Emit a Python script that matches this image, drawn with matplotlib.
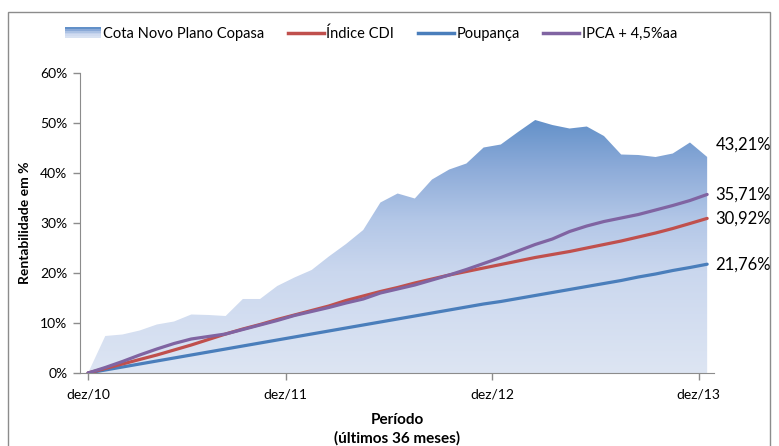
"""Rentabilidade acumulada: Cota Novo Plano Copasa vs CDI, Poupança e IPCA."""

import numpy as np
import matplotlib
matplotlib.use("Agg")
import matplotlib.pyplot as plt
from matplotlib.colors import LinearSegmentedColormap
from matplotlib.legend_handler import HandlerBase
from matplotlib.patches import Rectangle
from matplotlib.lines import Line2D

plt.rcParams["font.family"] = ["Lato", "DejaVu Sans"]

# months since dez/10 (0..36)
months = np.arange(37)

cota = [0, 7.4, 7.7, 8.5, 9.7, 10.3, 11.7, 11.6, 11.4, 14.8, 14.8, 17.4,
        19.1, 20.6, 23.3, 25.8, 28.6, 34.1, 35.9, 34.9, 38.7, 40.7, 41.9,
        45.1, 45.7, 48.2, 50.6, 49.6, 48.9, 49.3, 47.4, 43.7, 43.6, 43.2,
        43.9, 46.1, 43.21]
cdi = [0, 0.9, 1.8, 2.7, 3.6, 4.6, 5.6, 6.7, 7.8, 8.8, 9.7, 10.7,
       11.6, 12.5, 13.4, 14.5, 15.4, 16.3, 17.1, 18.0, 18.8, 19.6, 20.3,
       21.0, 21.7, 22.4, 23.1, 23.7, 24.3, 25.0, 25.7, 26.4, 27.2, 28.0,
       28.9, 29.9, 30.92]
poupanca = [0, 0.6, 1.2, 1.8, 2.4, 3.0, 3.6, 4.2, 4.8, 5.4, 6.0, 6.6,
            7.2, 7.8, 8.4, 9.0, 9.6, 10.2, 10.8, 11.4, 12.0, 12.6, 13.2,
            13.8, 14.3, 14.9, 15.5, 16.1, 16.7, 17.3, 17.9, 18.5, 19.2,
            19.8, 20.5, 21.1, 21.76]
ipca = [0, 1.1, 2.3, 3.6, 4.8, 5.9, 6.8, 7.3, 7.8, 8.7, 9.6, 10.5,
        11.5, 12.3, 13.1, 14.0, 14.8, 16.0, 16.8, 17.6, 18.6, 19.6, 20.7,
        21.9, 23.1, 24.4, 25.7, 26.8, 28.3, 29.4, 30.3, 31.0, 31.7, 32.6,
        33.5, 34.5, 35.71]

tick_pos = [0, 11.5, 23.5, 35.5]
tick_labels = ["dez/10", "dez/11", "dez/12", "dez/13"]
end_labels = ["43,21%", "35,71%", "30,92%", "21,76%"]

C_CDI = "#C0504D"
C_POUP = "#4A7EBB"
C_IPCA = "#8064A2"
area_cmap = LinearSegmentedColormap.from_list(
    "area", [(0.0, "#DDE5F3"), (0.4, "#CAD7EE"), (0.6, "#B3C7E7"),
             (0.8, "#8EACD9"), (1.0, "#6290C8")])


class GradientHandler(HandlerBase):
    def create_artists(self, legend, orig_handle, xdescent, ydescent,
                       width, height, fontsize, trans):
        arts = []
        n = 6
        for i in range(n):
            c = area_cmap(1 - i / (n - 1) * 0.9)
            arts.append(Rectangle((-xdescent, -ydescent + height * (n - 1 - i) / n),
                                  width, height / n, facecolor=c,
                                  edgecolor="none", transform=trans))
        return arts


def main():
    fig = plt.figure(figsize=(7.79, 4.46), dpi=100)
    fig.patches.append(Rectangle((0.010, -0.01), 0.979, 0.982,
                                 transform=fig.transFigure, fill=False,
                                 edgecolor="#8C8C8C", linewidth=1.0))
    ax = fig.add_axes([0.1027, 0.1637, 0.8139, 0.6726])

    # gradient-filled area clipped to the Cota polygon
    poly = ax.fill_between(months, 0, cota, facecolor="none", edgecolor="none")
    grad = np.linspace(0, 1, 256).reshape(-1, 1)
    img = ax.imshow(grad, cmap=area_cmap, origin="lower", aspect="auto",
                    extent=[months[0], months[-1], 0, 51], zorder=1)
    img.set_clip_path(poly.get_paths()[0], transform=ax.transData)

    ax.plot(months, poupanca, color=C_POUP, lw=2.3, zorder=3,
            solid_capstyle="round")
    ax.plot(months, cdi, color=C_CDI, lw=2.3, zorder=3, solid_capstyle="round")
    ax.plot(months, ipca, color=C_IPCA, lw=2.3, zorder=4,
            solid_capstyle="round")

    ax.set_xlim(-0.47, 36.4)
    ax.set_ylim(0, 60)
    ax.set_yticks(range(0, 61, 10))
    ax.set_yticklabels([f"{v}%" for v in range(0, 61, 10)], fontsize=10)
    ax.set_xticks(tick_pos)
    ax.set_xticklabels(tick_labels, fontsize=10)
    ax.tick_params(axis="both", length=5, color="#8C8C8C", width=1, pad=4)
    ax.tick_params(axis="x", pad=6)
    for side in ("top", "right"):
        ax.spines[side].set_visible(False)
    for side in ("left", "bottom"):
        ax.spines[side].set_color("#8C8C8C")

    ax.set_ylabel("Rentabilidade em %", fontsize=10, fontweight="bold",
                  labelpad=7)
    ax.set_xlabel("Período\n(últimos 36 meses)", fontsize=11,
                  fontweight="bold", labelpad=9, linespacing=1.35)

    finals = [cota[-1], ipca[-1], cdi[-1], poupanca[-1]]
    offsets = [2.5, 0, 0, 0]
    for val, lab, off in zip(finals, end_labels, offsets):
        ax.annotate(lab, (months[-1], val + off), xytext=(6, 0),
                    textcoords="offset points", va="center", ha="left",
                    fontsize=12, annotation_clip=False)

    handles = [Rectangle((0, 0), 1, 1),
               Line2D([], [], color=C_CDI, lw=2.5),
               Line2D([], [], color=C_POUP, lw=2.5),
               Line2D([], [], color=C_IPCA, lw=2.5)]
    labels = ["Cota Novo Plano Copasa", "Índice CDI", "Poupança",
              "IPCA + 4,5%aa"]
    fig.legend(handles, labels, loc="center left", bbox_to_anchor=(0.066, 0.925),
               ncol=4, frameon=False, fontsize=10.5, handlelength=2.5,
               handletextpad=0.15, columnspacing=1.6,
               handler_map={Rectangle: GradientHandler()})

    fig.savefig("out.png", dpi=100)
    plt.close(fig)


if __name__ == "__main__":
    main()
